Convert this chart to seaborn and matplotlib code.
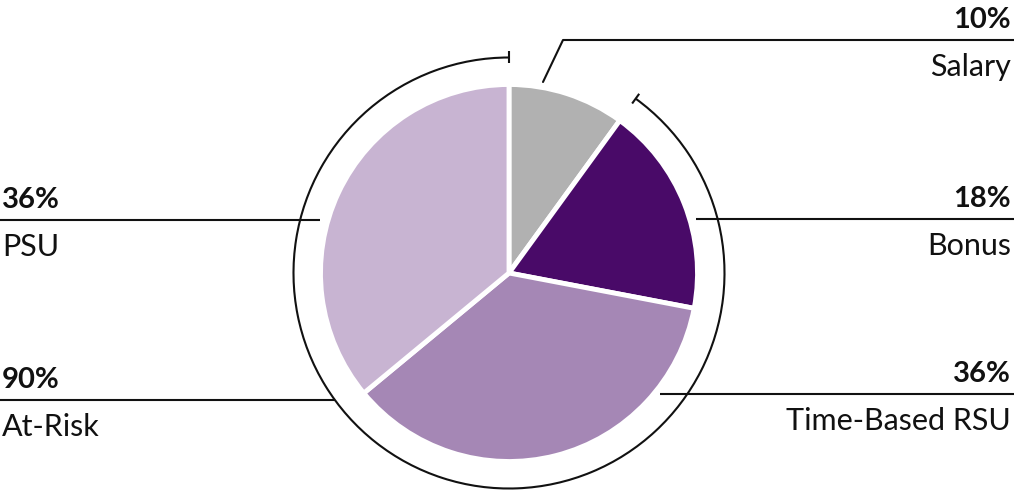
import matplotlib
matplotlib.use('Agg')
import matplotlib.pyplot as plt
from matplotlib.patches import Arc
import seaborn as sns
import numpy as np

sns.set_style('white')
plt.rcParams['font.family'] = ['Lato', 'DejaVu Sans']

# data
components = ['Salary', 'Bonus', 'Time-Based RSU', 'PSU']
shares = [10, 18, 36, 36]
colors = ['#b1b1b1', '#490a68', '#a587b5', '#c8b4d2']
at_risk_label = 'At-Risk'
at_risk_share = 90

W, H = 1014, 490
CX, CY = 509, H - 273          # pie centre (data coords, y up)
R_PIE = 188.5
R_ARC = 215.5
INK = '#111111'

fig = plt.figure(figsize=(W / 100, H / 100), dpi=100)
ax = fig.add_axes([0, 0, 1, 1])

ax.pie(shares, colors=colors, startangle=90, counterclock=False,
       center=(CX, CY), radius=R_PIE,
       wedgeprops={'edgecolor': 'white', 'linewidth': 3.5})
ax.set_xlim(0, W)
ax.set_ylim(0, H)
ax.set_aspect('equal')
ax.axis('off')

# at-risk bracket arc (from end of salary clockwise back to top)
start = 90
end = 90 + 360 * at_risk_share / 100
ax.add_patch(Arc((CX, CY), 2 * R_ARC, 2 * R_ARC, theta1=start, theta2=end,
                 color=INK, lw=1.5))
for a in (start, end):
    t = np.radians(a)
    ax.plot([CX + (R_ARC - 6) * np.cos(t), CX + (R_ARC + 6) * np.cos(t)],
            [CY + (R_ARC - 6) * np.sin(t), CY + (R_ARC + 6) * np.sin(t)],
            color=INK, lw=1.5, solid_capstyle='butt')


def arc_x(ypx, sign):
    dy = (H - ypx) - CY
    return CX + sign * np.sqrt(R_ARC ** 2 - dy ** 2)


# label leader lines: name, value, y (px from top), x0, x1, side
labels = [
    ('Salary', shares[0], 40, 563, W, 'right'),
    ('Bonus', shares[1], 219, 696, W, 'right'),
    ('Time-Based RSU', shares[2], 394, 660, W, 'right'),
    ('PSU', shares[3], 220, 0, 320, 'left'),
    (at_risk_label, at_risk_share, 400, 0, arc_x(400, -1), 'left'),
]

for name, pct, ypx, x0, x1, side in labels:
    y = H - ypx
    ax.plot([x0, x1], [y, y], color=INK, lw=1.5, solid_capstyle='butt')
    tx = W - 3 if side == 'right' else 2
    ax.text(tx, y + 12, f'{pct}%', ha=side, va='baseline',
            fontsize=21, fontweight='bold', color=INK)
    ax.text(tx, y - 36, name, ha=side, va='baseline',
            fontsize=22, fontweight='normal', color=INK)

# salary slanted leader
ax.plot([543, 563], [H - 82, H - 40], color=INK, lw=1.5)

fig.savefig('out.png', dpi=100)
